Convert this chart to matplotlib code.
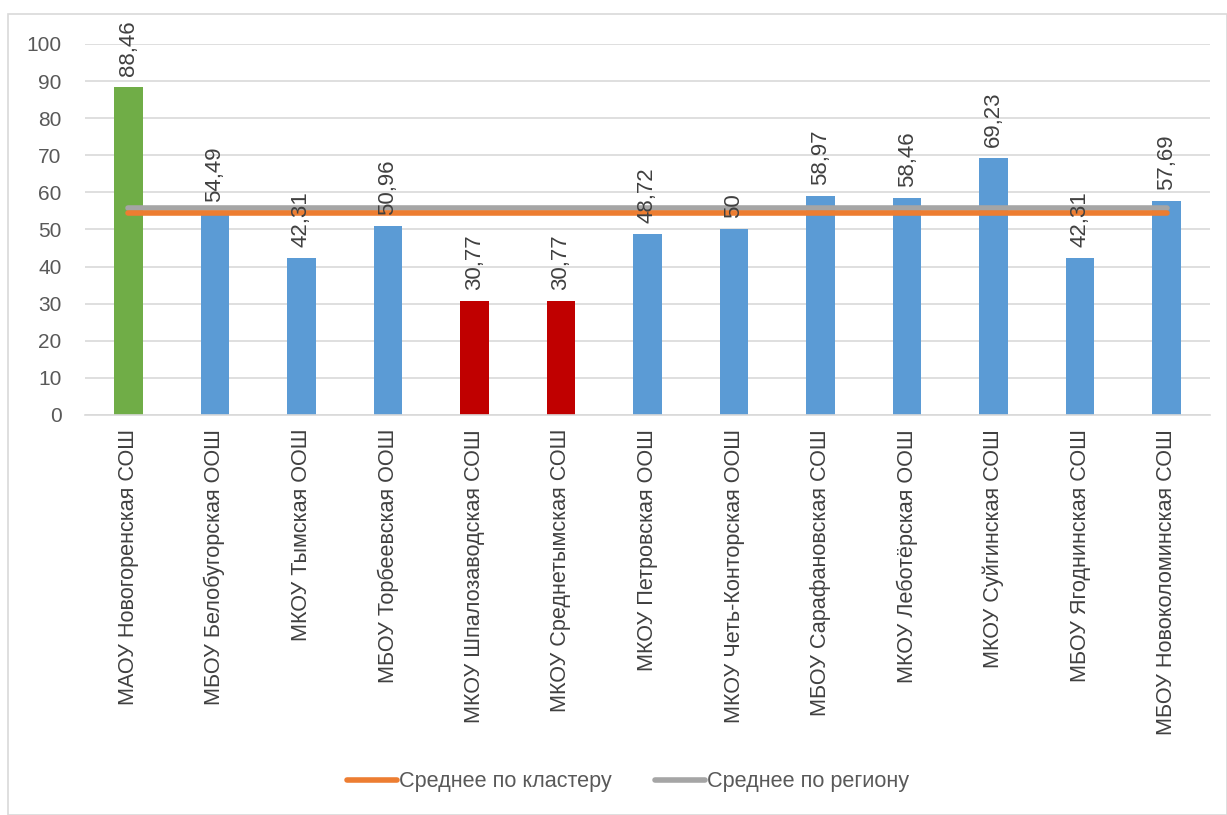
import matplotlib.pyplot as plt
from matplotlib.patches import Rectangle

plt.rcParams["font.family"] = ["Liberation Sans", "DejaVu Sans"]

SCHOOLS = [
    "МАОУ Новогоренская СОШ",
    "МБОУ Белобугорская ООШ",
    "МКОУ Тымская ООШ",
    "МБОУ Торбеевская ООШ",
    "МКОУ Шпалозаводская СОШ",
    "МКОУ Среднетымская СОШ",
    "МКОУ Петровская ООШ",
    "МКОУ Четь-Конторская ООШ",
    "МБОУ Сарафановская СОШ",
    "МКОУ Леботёрская ООШ",
    "МКОУ Суйгинская СОШ",
    "МБОУ Ягоднинская СОШ",
    "МБОУ Новоколоминская СОШ",
]
VALUES = [88.46, 54.49, 42.31, 50.96, 30.77, 30.77, 48.72, 50, 58.97, 58.46, 69.23, 42.31, 57.69]
LABELS = ["88,46", "54,49", "42,31", "50,96", "30,77", "30,77", "48,72", "50", "58,97", "58,46", "69,23", "42,31", "57,69"]
CLUSTER_AVG = 54.4
REGION_AVG = 55.7

GREEN = "#70ad47"
BLUE = "#5b9bd5"
RED = "#c00000"
TEXT = "#595959"


def bar_color(v):
    if v == max(VALUES):
        return GREEN
    if v == min(VALUES):
        return RED
    return BLUE


fig = plt.figure(figsize=(12.27, 8.15), dpi=100)
fig.patches.append(Rectangle((8 / 1227, 0), 1 - 8 / 1227, 1 - 14 / 815,
                             transform=fig.transFigure, fill=False,
                             edgecolor="#d9d9d9", linewidth=1.2))
ax = fig.add_axes([85 / 1227, 1 - 415 / 815, 1125 / 1227, 371 / 815])

x = list(range(len(SCHOOLS)))
ax.bar(x, VALUES, width=0.33, color=[bar_color(v) for v in VALUES], zorder=2)

ax.plot(x, [REGION_AVG] * len(x), color="#a5a5a5", linewidth=4,
        solid_capstyle="round", zorder=3, label="Среднее по региону")
ax.plot(x, [CLUSTER_AVG] * len(x), color="#ed7d31", linewidth=4,
        solid_capstyle="round", zorder=4, label="Среднее по кластеру")

for xi, v, lab in zip(x, VALUES, LABELS):
    ax.annotate(lab, (xi, v), xytext=(0, 8), textcoords="offset points",
                rotation=90, ha="center", va="bottom", fontsize=16,
                color="#404040", zorder=5, annotation_clip=False)

ax.set_xlim(-0.5, len(SCHOOLS) - 0.5)
ax.set_ylim(0, 100)
ax.set_yticks(range(0, 101, 10))
ax.tick_params(axis="y", length=0, labelsize=15, labelcolor=TEXT, pad=17)
ax.set_xticks(x)
ax.set_xticklabels(SCHOOLS, rotation=90, fontsize=15.6, color="#404040")
ax.tick_params(axis="x", length=0, pad=10)
ax.grid(axis="y", color="#d9d9d9", linewidth=1.2, zorder=0)
for side in ("top", "right", "left"):
    ax.spines[side].set_visible(False)
ax.spines["bottom"].set_color("#d9d9d9")
ax.spines["bottom"].set_linewidth(1.2)

handles, labels = ax.get_legend_handles_labels()
leg = fig.legend(handles[::-1], labels[::-1], loc="center", ncol=2,
                 bbox_to_anchor=(628 / 1227, 1 - 782 / 815), frameon=False,
                 fontsize=15.6, handlelength=2.3, handletextpad=0.1,
                 columnspacing=2.0)
for t in leg.get_texts():
    t.set_color(TEXT)

fig.savefig("out.png", dpi=100)
